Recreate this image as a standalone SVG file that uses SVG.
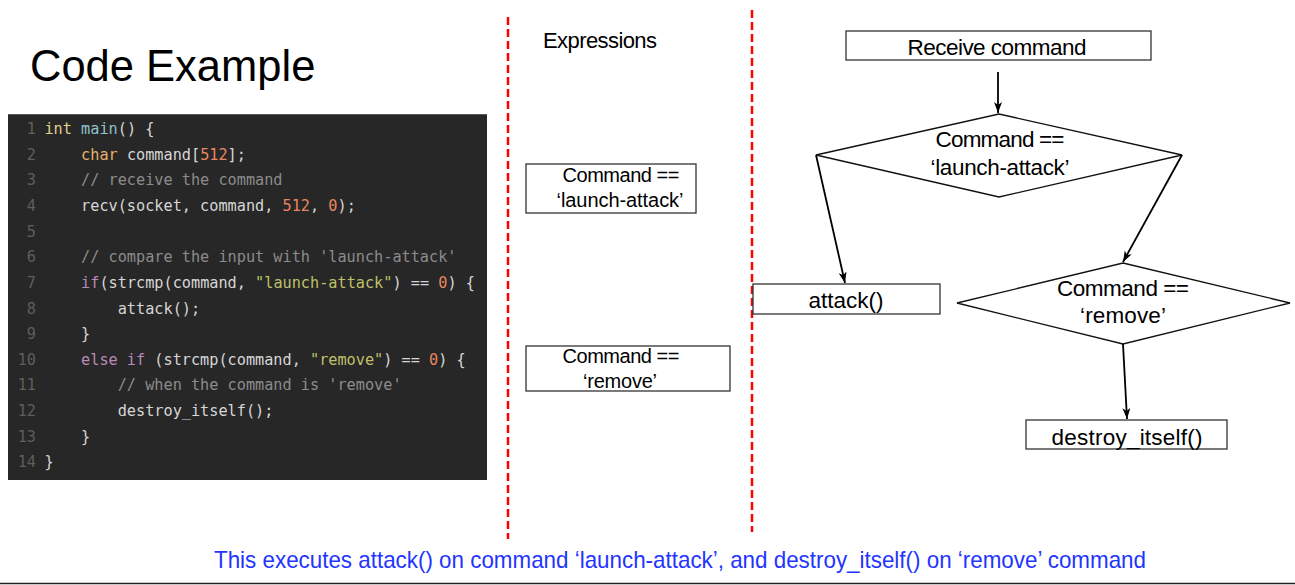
<svg xmlns="http://www.w3.org/2000/svg" width="1295" height="585" viewBox="0 0 1295 585">
<style>
.sans{font-family:"Liberation Sans",Arial,sans-serif;fill:#000}
.fc{font-size:22.5px;text-anchor:middle}
.ex{font-size:20px;text-anchor:middle}
.box{fill:#fff;stroke:#333;stroke-width:1.3}
.dia{fill:#fff;stroke:#111;stroke-width:1.3}
.edge{stroke:#000;stroke-width:1.8;fill:none}
.sep{stroke:#ff0000;stroke-width:2.5;stroke-dasharray:8 4;fill:none}
.code{font-family:"DejaVu Sans Mono","Liberation Mono",monospace;font-size:16.5px;fill:#d6d6d6}
.ln{fill:#5e5e5e;text-anchor:end}
.kw{fill:#e0d18f}
.ty{fill:#e6b06a}
.fn{fill:#8ec3c9}
.num{fill:#e8865e}
.cm{fill:#8c8c8c}
.str{fill:#bfc06a}
.ctl{fill:#b98ab8}
</style>
<defs>
<marker id="arr" markerUnits="userSpaceOnUse" markerWidth="12" markerHeight="10" refX="11" refY="4" orient="auto">
<path d="M0,0 L11,4 L0,8 L3,4 z" fill="#000"/>
</marker>
</defs>
<rect width="1295" height="585" fill="#fff"/>

<g id="title">
<text class="sans" x="30" y="81" font-size="43.5">Code Example</text>
</g>

<g id="code-block">
<rect x="8" y="114" width="479" height="366" fill="#272727"/>
<line x1="8" y1="114.5" x2="487" y2="114.5" stroke="#555" stroke-width="1"/>
<g class="code" transform="scale(0.9225,1)">
<text class="ln" x="39" y="134">1</text>
<text class="ln" x="39" y="159.7">2</text>
<text class="ln" x="39" y="185.3">3</text>
<text class="ln" x="39" y="211">4</text>
<text class="ln" x="39" y="236.6">5</text>
<text class="ln" x="39" y="262.3">6</text>
<text class="ln" x="39" y="287.9">7</text>
<text class="ln" x="39" y="313.6">8</text>
<text class="ln" x="39" y="339.2">9</text>
<text class="ln" x="39" y="364.9">10</text>
<text class="ln" x="39" y="390.5">11</text>
<text class="ln" x="39" y="416.2">12</text>
<text class="ln" x="39" y="441.8">13</text>
<text class="ln" x="39" y="467.5">14</text>
<text x="48.2" y="134" xml:space="preserve"><tspan class="kw">int</tspan> <tspan class="fn">main</tspan>() {</text>
<text x="87.9" y="159.7" xml:space="preserve"><tspan class="ty">char</tspan> command[<tspan class="num">512</tspan>];</text>
<text x="87.9" y="185.3" class="cm" xml:space="preserve">// receive the command</text>
<text x="87.9" y="211" xml:space="preserve">recv(socket, command, <tspan class="num">512</tspan>, <tspan class="num">0</tspan>);</text>
<text x="87.9" y="262.3" class="cm" xml:space="preserve">// compare the input with 'launch-attack'</text>
<text x="87.9" y="287.9" xml:space="preserve"><tspan class="ctl">if</tspan>(strcmp(command, <tspan class="str">"launch-attack"</tspan>) == <tspan class="num">0</tspan>) {</text>
<text x="127.6" y="313.6" xml:space="preserve">attack();</text>
<text x="87.9" y="339.2" xml:space="preserve">}</text>
<text x="87.9" y="364.9" xml:space="preserve"><tspan class="ctl">else if</tspan> (strcmp(command, <tspan class="str">"remove"</tspan>) == <tspan class="num">0</tspan>) {</text>
<text x="127.6" y="390.5" class="cm" xml:space="preserve">// when the command is 'remove'</text>
<text x="127.6" y="416.2" xml:space="preserve">destroy_itself();</text>
<text x="87.9" y="441.8" xml:space="preserve">}</text>
<text x="48.2" y="467.5" xml:space="preserve">}</text>
</g>
</g>

<g id="separators">
<line class="sep" x1="508" y1="17" x2="508" y2="539"/>
<line class="sep" x1="752" y1="10" x2="752" y2="532"/>
</g>

<g id="expressions-header">
<text class="sans" x="543" y="48" font-size="22" textLength="114">Expressions</text>
</g>

<g id="expr-launch">
<rect class="box" x="526" y="164" width="170" height="49"/>
<text class="sans ex" x="621" y="182" textLength="117">Command ==</text>
<text class="sans ex" x="620" y="207" textLength="127">‘launch-attack’</text>
</g>

<g id="expr-remove">
<rect class="box" x="526" y="346" width="204" height="45"/>
<text class="sans ex" x="621" y="363" textLength="117">Command ==</text>
<text class="sans ex" x="620" y="388" textLength="74">‘remove’</text>
</g>

<g id="receive">
<rect class="box" x="846" y="31" width="305" height="29"/>
<text class="sans fc" x="997" y="55" textLength="179">Receive command</text>
</g>

<g id="decision-launch">
<polygon class="dia" points="999,114 1182,155 999,197 816,155"/>
<text class="sans fc" x="1000" y="147" textLength="129">Command ==</text>
<text class="sans fc" x="1000" y="175" textLength="139">‘launch-attack’</text>
</g>

<g id="attack">
<rect class="box" x="753" y="284" width="187" height="30"/>
<text class="sans fc" x="846" y="308" textLength="75">attack()</text>
</g>

<g id="decision-remove">
<polygon class="dia" points="1123,263 1290,303 1123,344 957,303"/>
<text class="sans fc" x="1123" y="296" textLength="132">Command ==</text>
<text class="sans fc" x="1123" y="323" textLength="86">‘remove’</text>
</g>

<g id="destroy">
<rect class="box" x="1026" y="420" width="201" height="29"/>
<text class="sans fc" x="1127" y="445" textLength="151">destroy_itself()</text>
</g>

<g id="connectors">
<line class="edge" x1="998" y1="72" x2="998" y2="113" marker-end="url(#arr)"/>
<line class="edge" x1="816" y1="155" x2="845" y2="283" marker-end="url(#arr)"/>
<line class="edge" x1="1182" y1="155" x2="1123" y2="262" marker-end="url(#arr)"/>
<line class="edge" x1="1123" y1="344" x2="1127" y2="419" marker-end="url(#arr)"/>
</g>

<g id="caption">
<text class="sans" x="214" y="568" font-size="24" style="fill:#1f35ff" textLength="932" lengthAdjust="spacingAndGlyphs">This executes attack() on command ‘launch-attack’, and destroy_itself() on ‘remove’ command</text>
</g>

<line x1="0" y1="583.5" x2="1295" y2="583.5" stroke="#222" stroke-width="1.5"/>
</svg>
